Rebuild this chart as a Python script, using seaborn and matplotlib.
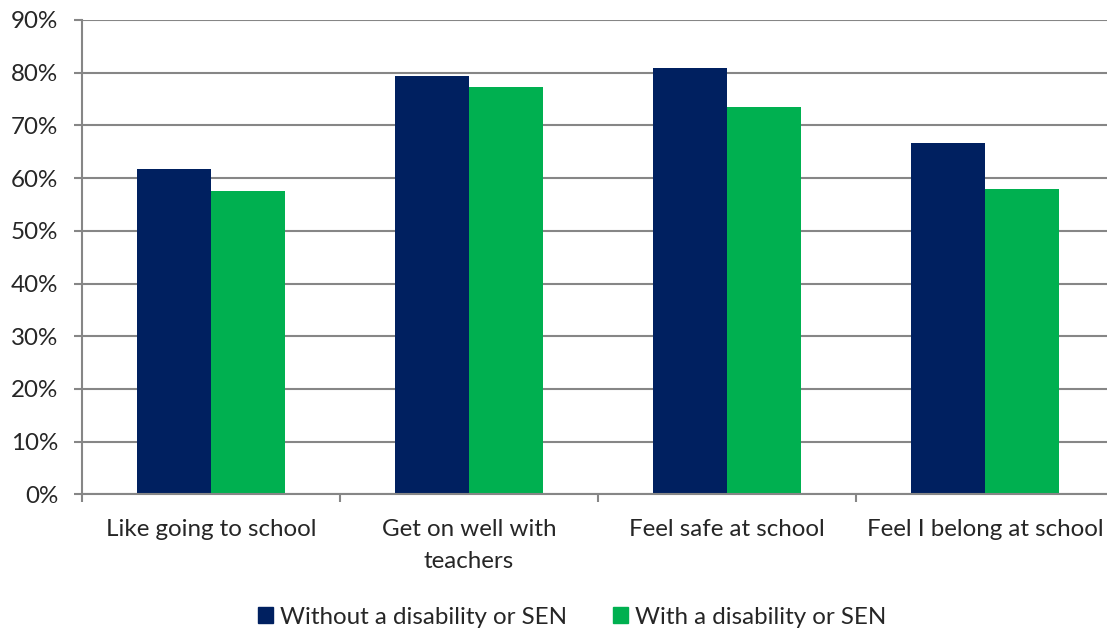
import matplotlib
matplotlib.use("Agg")
import matplotlib.pyplot as plt
import seaborn as sns
import pandas as pd
from matplotlib.ticker import FixedLocator, PercentFormatter

categories = ["Like going to school", "Get on well with\nteachers",
              "Feel safe at school", "Feel I belong at school"]
without_sen = [61.7, 79.4, 80.9, 66.7]
with_sen = [57.6, 77.2, 73.5, 57.9]
series_names = ["Without a disability or SEN", "With a disability or SEN"]
palette = ["#002060", "#00B050"]

df = pd.DataFrame({
    "category": categories * 2,
    "value": without_sen + with_sen,
    "group": [series_names[0]] * 4 + [series_names[1]] * 4,
})

sns.set_style("white")
plt.rcParams["font.family"] = ["Lato", "DejaVu Sans"]
FS = 17.4

W, H = 1107, 630
fig = plt.figure(figsize=(W / 100, H / 100), dpi=100)
left, right, bottom, top = 82, 1114, 494.3, 20
ax = fig.add_axes([left / W, 1 - bottom / H, (right - left) / W, (bottom - top) / H])

sns.barplot(data=df, x="category", y="value", hue="group", palette=palette,
            width=0.574, saturation=1, ax=ax, legend=False, zorder=3,
            edgecolor="none")

grid_c = "#868686"
ax.set_ylim(0, 90)
ax.set_xlim(-0.5, 3.5)
ax.yaxis.set_major_locator(FixedLocator(range(0, 91, 10)))
ax.yaxis.set_major_formatter(PercentFormatter(decimals=0))
ax.yaxis.grid(True, color=grid_c, linewidth=1.5, zorder=0)
ax.set_axisbelow(True)

for side in ["top", "right"]:
    ax.spines[side].set_visible(False)
for side in ["left", "bottom"]:
    ax.spines[side].set_color(grid_c)
    ax.spines[side].set_linewidth(1.5)
    ax.spines[side].set_zorder(4)

ax.tick_params(axis="y", which="major", length=6, width=1.5, color=grid_c,
               labelsize=FS, pad=11, direction="out", left=True)
ax.tick_params(axis="x", which="major", length=0, labelsize=FS, pad=18)
ax.xaxis.set_minor_locator(FixedLocator([-0.5, 0.5, 1.5, 2.5, 3.5]))
ax.tick_params(axis="x", which="minor", length=6, width=1.5, color=grid_c,
               direction="out", bottom=True)
for lbl in ax.get_xticklabels():
    lbl.set_linespacing(1.6)
ax.set_xlabel("")
ax.set_ylabel("")

handles = [plt.Rectangle((0, 0), 1, 1, color=c) for c in palette]
fig.legend(handles, series_names, loc="center", bbox_to_anchor=(0.517, 1 - 617 / H),
           ncol=2, frameon=False, fontsize=FS, handlelength=0.6, handleheight=0.6,
           handletextpad=0.3, columnspacing=1.9)

fig.savefig("out.png", dpi=100)
